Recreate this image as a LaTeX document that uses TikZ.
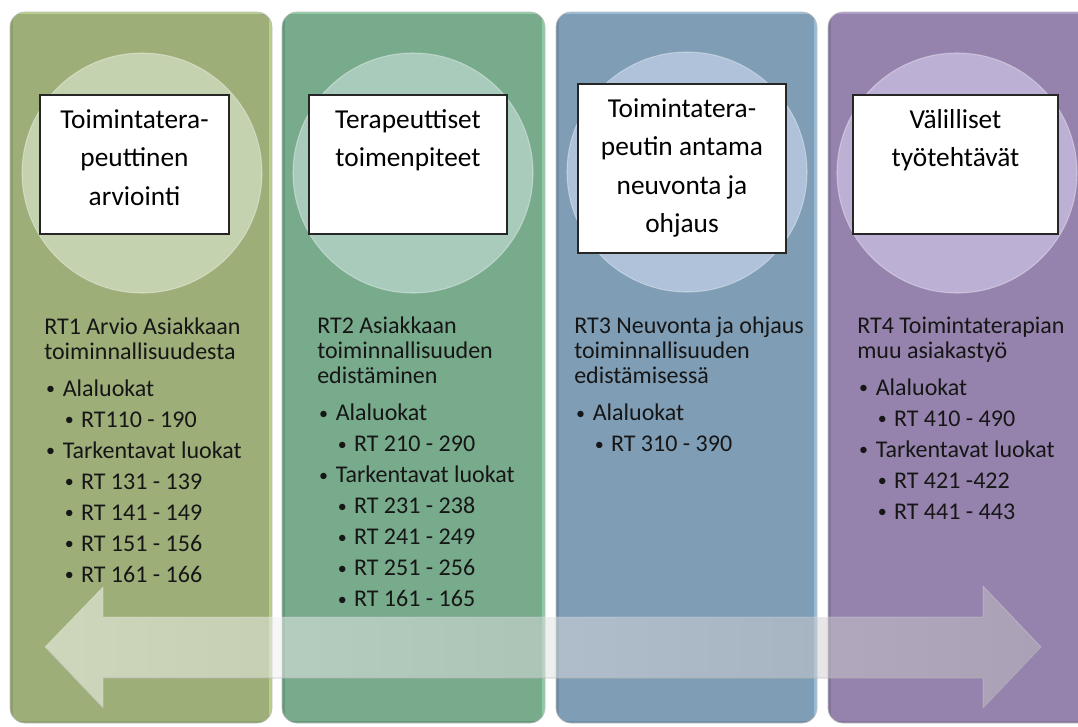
\documentclass[tikz,border=0pt]{standalone}
\usepackage{fontspec}
\setmainfont{Carlito}
\definecolor{pA}{RGB}{157,174,120}\definecolor{pAl}{RGB}{184,206,140}\definecolor{pAd}{RGB}{140,158,108}\definecolor{cA}{RGB}{196,210,176}
\definecolor{pB}{RGB}{120,170,140}\definecolor{pBl}{RGB}{140,202,162}\definecolor{pBd}{RGB}{104,152,124}\definecolor{cB}{RGB}{169,203,188}
\definecolor{pC}{RGB}{127,157,181}\definecolor{pCl}{RGB}{150,188,218}\definecolor{pCd}{RGB}{112,140,164}\definecolor{cC}{RGB}{175,194,218}
\definecolor{pD}{RGB}{149,131,173}\definecolor{pDl}{RGB}{172,152,202}\definecolor{pDd}{RGB}{132,116,156}\definecolor{cD}{RGB}{188,176,212}
\definecolor{txt}{RGB}{22,22,22}
\newcommand{\titlefont}{\fontsize{20.5}{28.9}\selectfont}
\newcommand{\bodyhead}{\fontsize{18}{19.1}\selectfont}
\newcommand{\bodylist}{\fontsize{18}{23.25}\selectfont}
\newcommand{\bul}{\raisebox{1.2pt}{\fontsize{13.5}{13.5}\selectfont\textbullet}}
\newcommand{\lone}[1]{\par\noindent\makebox[0pt][l]{\hspace{4.7pt}\makebox[0pt][c]{\bul}}\hspace{13.9pt}#1}
\newcommand{\ltwo}[1]{\par\noindent\makebox[0pt][l]{\hspace{18.9pt}\makebox[0pt][c]{\bul}}\hspace{27.6pt}#1}
\newcommand{\bodybox}[2]{\parbox[t]{240pt}{\setlength{\parskip}{0pt}\raggedright\bodyhead #1\par\bodylist\vspace{4.5pt}#2}}
\tikzset{
  panel/.style={rounded corners=11.25pt},
  disc/.style={circle, inner sep=0pt, minimum size=180pt, draw=white, draw opacity=0.35, line width=0.8pt},
  titlebox/.style={draw=black!85, fill=white, line width=0.9pt, inner sep=0pt},
  titletxt/.style={anchor=base, inner sep=0pt, text=black},
  bodytxt/.style={anchor=base west, inner sep=0pt, text=txt},
}
\newcommand{\panelshape}[5]{%
  \begin{scope}
    \clip[panel] (#1,#2) rectangle (#3,#4);
    \fill[#5] (#1,#2) rectangle (#3,#4);
    \draw[#5l, line width=5pt] (#3,#2) -- (#3,#4);
    \draw[#5l, line width=3pt] (#1,#2) -- (#3,#2);
    \draw[#5d, line width=4pt] (#1,#2) -- (#1,#4);
    \draw[#5d, line width=3pt] (#1,#4) -- (#3,#4);
  \end{scope}
  \draw[panel, black!25, line width=0.5pt] (#1,#2) rectangle (#3,#4);
}
\begin{document}
\begin{tikzpicture}[x=0.75pt,y=-0.75pt]
\useasboundingbox (0,0) rectangle (1078,726);
\clip (0,0) rectangle (1078,726);
% panels
\panelshape{10}{12}{272}{723}{pA}
\panelshape{282}{12}{545}{723}{pB}
\panelshape{556}{12}{817}{723}{pC}
\panelshape{828}{12}{1100}{723}{pD}
% discs
\node[disc, fill=cA] (c1) at (142,173) {};
\node[disc, fill=cB] (c2) at (413,173) {};
\node[disc, fill=cC] (c3) at (687,172) {};
\node[disc, fill=cD] (c4) at (957,173) {};
% title boxes
\node[titlebox, minimum width=141.75pt, minimum height=104.25pt] (box1) at (134.5,164.5) {};
\node[titlebox, minimum width=148.5pt, minimum height=104.25pt] (box2) at (408,164.5) {};
\node[titlebox, minimum width=156pt, minimum height=126.75pt] (box3) at (682,168.5) {};
\node[titlebox, minimum width=153.75pt, minimum height=104.25pt] (box4) at (955.5,164.5) {};
\node[titletxt] (t1) at (134.5,128) {\parbox[t]{141pt}{\centering\titlefont Toimintatera-\\peuttinen\\arviointi}};
\node[titletxt] (t2) at (408,128) {\parbox[t]{148pt}{\centering\titlefont Terapeuttiset\\toimenpiteet}};
\node[titletxt] (t3) at (682,117) {\parbox[t]{155pt}{\centering\titlefont Toimintatera-\\peutin antama\\neuvonta ja\\ohjaus}};
\node[titletxt] (t4) at (955.5,128) {\parbox[t]{153pt}{\centering\titlefont Välilliset\\työtehtävät}};
% body texts
\node[bodytxt] (b1) at (44,334) {\bodybox{RT1 Arvio Asiakkaan\\toiminnallisuudesta}{\lone{Alaluokat}\ltwo{RT110 - 190}\lone{Tarkentavat luokat}\ltwo{RT 131 - 139}\ltwo{RT 141 - 149}\ltwo{RT 151 - 156}\ltwo{RT 161 - 166}}};
\node[bodytxt] (b2) at (317,333) {\bodybox{RT2 Asiakkaan\\toiminnallisuuden\\edistäminen}{\lone{Alaluokat}\ltwo{RT 210 - 290}\lone{Tarkentavat luokat}\ltwo{RT 231 - 238}\ltwo{RT 241 - 249}\ltwo{RT 251 - 256}\ltwo{RT 161 - 165}}};
\node[bodytxt] (b3) at (574,333) {\bodybox{RT3 Neuvonta ja ohjaus\\toiminnallisuuden\\edistämisessä}{\lone{Alaluokat}\ltwo{RT 310 - 390}}};
\node[bodytxt] (b4) at (857,333) {\bodybox{RT4 Toimintaterapian\\muu asiakastyö}{\lone{Alaluokat}\ltwo{RT 410 - 490}\lone{Tarkentavat luokat}\ltwo{RT 421 -422}\ltwo{RT 441 - 443}}};
% double arrow
\coordinate (tipL) at (45,647);
\coordinate (tipR) at (1041,647);
\path[left color=white, right color=black!25, fill opacity=0.5, draw=white, draw opacity=0.25, line width=0.6pt]
  (tipL) -- (103,587) -- (103,617) -- (983,617) -- (983,586) -- (tipR) -- (983,708) -- (983,678) -- (103,678) -- (103,708) -- cycle;
\draw[black!40, opacity=0.3, line width=0.8pt] (tipL) -- (103,708) (103,678) -- (983,678) (983,708) -- (tipR);
\end{tikzpicture}
\end{document}
